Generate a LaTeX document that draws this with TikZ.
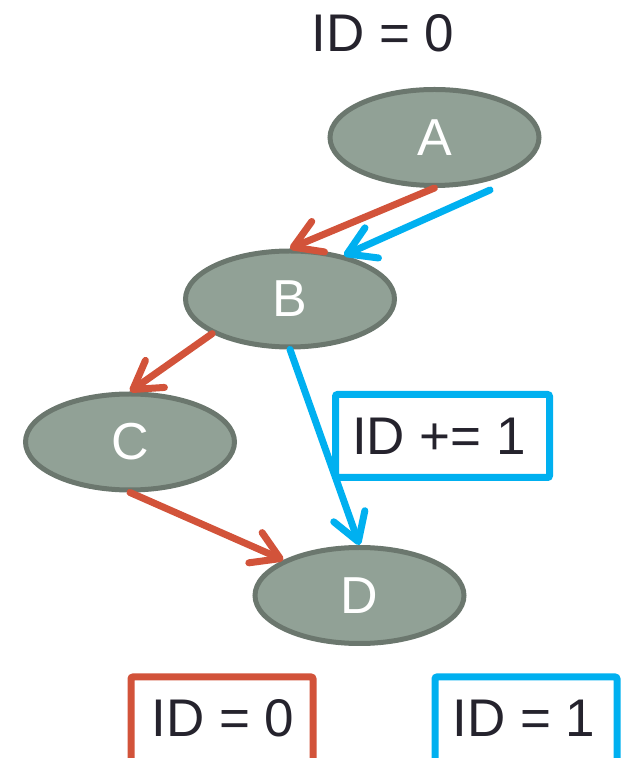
\documentclass[tikz,border=0pt]{standalone}
\usepackage{fontspec}
\setmainfont{Liberation Sans}
\usetikzlibrary{arrows.meta,shapes.geometric}
\definecolor{nodefill}{RGB}{145,161,150}
\definecolor{nodeedge}{RGB}{107,119,110}
\definecolor{redc}{RGB}{210,83,58}
\definecolor{bluec}{RGB}{0,176,240}
\definecolor{txt}{RGB}{37,35,45}
\tikzset{
  gnode/.style={ellipse, draw=nodeedge, fill=nodefill, line width=5bp,
    minimum width=209bp, minimum height=96bp, inner sep=0pt,
    text=white, font=\fontsize{52bp}{56bp}\selectfont},
  bigtext/.style={text=txt, font=\fontsize{53bp}{58bp}\selectfont, inner sep=0pt},
  arr/.style={line width=7bp, line cap=round, line join=round,
    -{Straight Barb[length=27bp,width=33bp,round]}},
  redarr/.style={arr, draw=redc},
  bluearr/.style={arr, draw=bluec},
  idbox/.style={line width=7bp, rounded corners=2bp}
}
\begin{document}
\begin{tikzpicture}[x=1bp,y=1bp]
\useasboundingbox (0,0) rectangle (625,758);
\clip (0,0) rectangle (625,758);
\node[bigtext] (top) at (383,725) {ID = 0};
\node[gnode] (A) at (434.5,620.5) {A};
\node[gnode] (B) at (290,459) {B};
\node[gnode] (C) at (130,316) {C};
\node[gnode] (D) at (359.5,162.5) {D};
\coordinate (bs) at (490,568);
% middle box
\node[idbox, draw=bluec, fill=white, minimum width=214bp, minimum height=83bp, inner sep=0pt] (inc) at (442.5,322) {};
\node[bigtext] (inctext) at (439,322) {ID += 1};
% arrows
\draw[redarr] (A.south) -- (B.north);
\draw[bluearr] (bs) -- (B.39);
\draw[redarr] (B.204) -- (C.north);
\draw[redarr] (C.south) -- (D.155);
\draw[bluearr] (B.south) -- (D.north);
% bottom boxes
\draw[idbox, draw=redc] (131,-20) rectangle (313,81);
\draw[idbox, draw=bluec] (435,-20) rectangle (617,81);
\node[bigtext] (r0) at (223,40) {ID = 0};
\node[bigtext] (b1) at (524,40) {ID = 1};
\end{tikzpicture}
\end{document}
